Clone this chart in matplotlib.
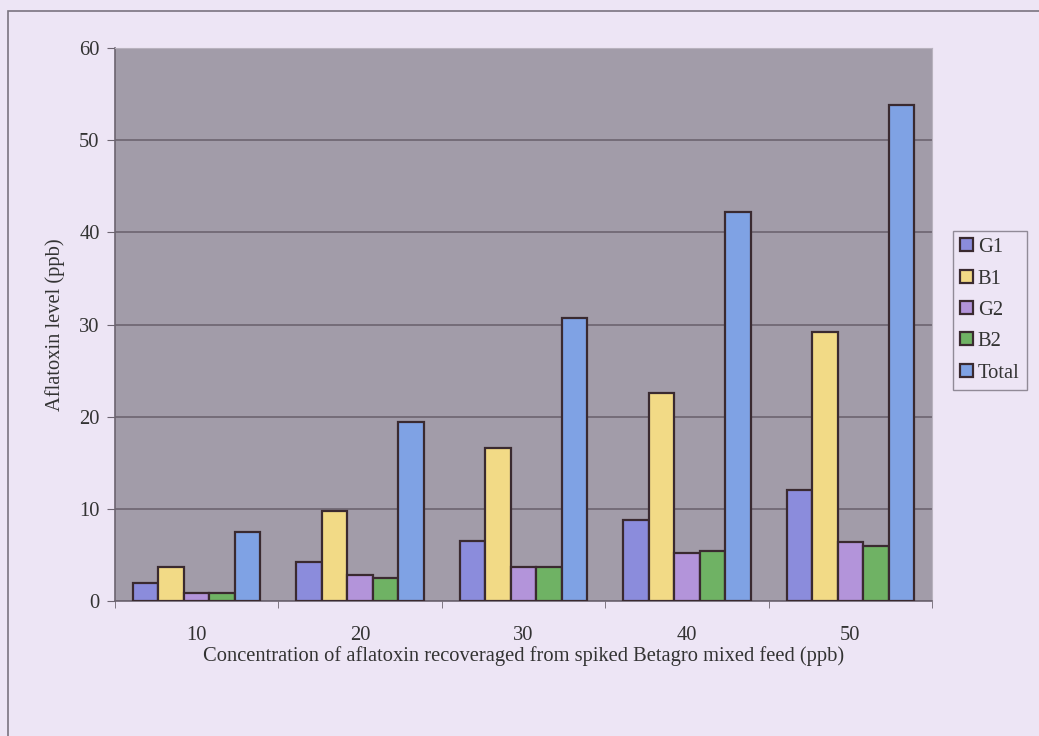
import numpy as np
import matplotlib.pyplot as plt
from matplotlib.patches import Rectangle

# aflatoxin recovered from spiked feed
concentrations = ["10", "20", "30", "40", "50"]
series_names = ["G1", "B1", "G2", "B2", "Total"]
g1 = [2.0, 4.2, 6.5, 8.8, 12.0]
b1 = [3.7, 9.8, 16.6, 22.6, 29.2]
g2 = [0.9, 2.8, 3.7, 5.2, 6.4]
b2 = [0.9, 2.5, 3.7, 5.4, 6.0]
total = [7.5, 19.4, 30.7, 42.2, 53.8]
y_ticks = [0, 10, 20, 30, 40, 50, 60]

colors = ["#8b8cdc", "#f2da86", "#b394da", "#6fb264", "#7fa2e4"]
page_bg = "#ede5f5"
plot_bg = "#a29ca9"
fs = 14.8

plt.rcParams["font.family"] = ["Liberation Serif", "DejaVu Serif"]

fig = plt.figure(figsize=(10.39, 7.36), dpi=100)
fig.patch.set_facecolor(page_bg)

# outer chart frame (runs off the right and bottom of the scan)
fig.patches.append(Rectangle((8 / 1039, -0.05), 1.1, 1 - 11 / 736 + 0.05,
                             transform=fig.transFigure, fill=False,
                             edgecolor="#7a7480", lw=1.2))

ax = fig.add_axes([115 / 1039, 1 - 601 / 736, (932 - 115) / 1039, (601 - 48) / 736])
ax.set_facecolor(plot_bg)

data = [g1, b1, g2, b2, total]
x = np.arange(len(concentrations))
w = 0.156
for i, (name, vals) in enumerate(zip(series_names, data)):
    ax.bar(x + (i - 2) * w, vals, width=w, color=colors[i], edgecolor="#3a2a30",
           linewidth=1.6, label=name, zorder=3)

ax.set_xlim(-0.5, len(concentrations) - 0.5)
ax.set_ylim(0, 60)
ax.set_yticks(y_ticks)
ax.yaxis.grid(True, color="#6c6470", lw=1.2, zorder=0)
ax.set_xticks(x)
ax.set_xticklabels(concentrations)
ax.set_xticks(np.arange(-0.5, len(concentrations), 1), minor=True)
ax.tick_params(axis="x", which="major", length=0, labelsize=fs, pad=18)
ax.tick_params(axis="x", which="minor", length=5, color="#6c6470", direction="out")
ax.tick_params(axis="y", length=6, color="#6c6470", labelsize=fs, pad=5)
for lbl in ax.get_xticklabels() + ax.get_yticklabels():
    lbl.set_color("#333333")

for s in ["top", "right"]:
    ax.spines[s].set_color("#b8b2be")
for s in ["left", "bottom"]:
    ax.spines[s].set_color("#6c6470")
    ax.spines[s].set_linewidth(1.2)

ax.set_xlabel("Concentration of aflatoxin recoveraged from spiked Betagro mixed feed (ppb)",
              fontsize=fs, color="#333333", labelpad=1)
ax.set_ylabel("Aflatoxin level (ppb)", fontsize=fs, color="#333333", labelpad=10)

leg = ax.legend(loc="upper left", bbox_to_anchor=(953 / 1039, 1 - 231 / 736),
                bbox_transform=fig.transFigure, frameon=True, fancybox=False,
                fontsize=fs, handlelength=0.6, handleheight=0.6, handletextpad=0.25,
                labelspacing=0.6, borderpad=0.35, borderaxespad=0)
leg.get_frame().set_edgecolor("#7a7480")
leg.get_frame().set_facecolor(page_bg)
leg.get_frame().set_linewidth(1.0)
for t in leg.get_texts():
    t.set_color("#333333")

fig.savefig("out.png", dpi=100, facecolor=page_bg)
